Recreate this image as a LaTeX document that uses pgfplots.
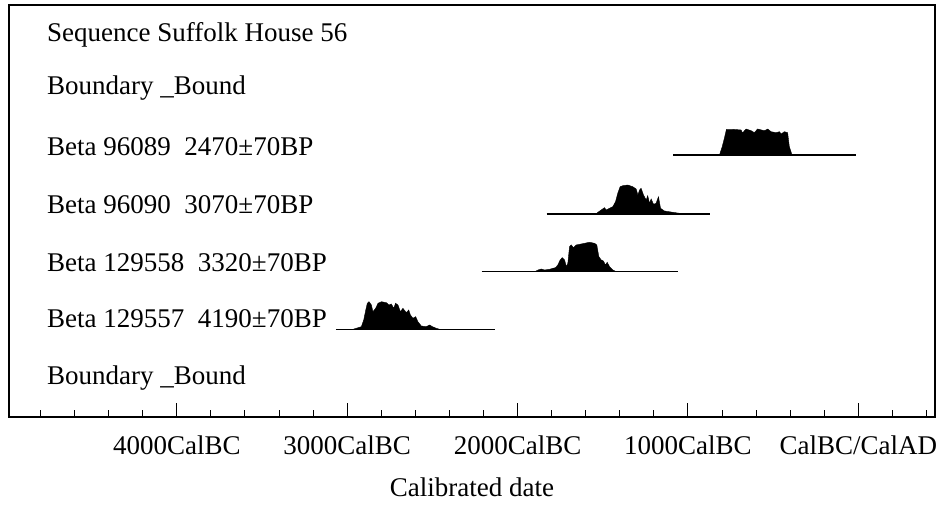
\documentclass[border=0pt]{standalone}
\usepackage{fontspec}
\setmainfont{Liberation Serif}
\usepackage{pgfplots}
\pgfplotsset{compat=1.18}
\begin{document}
\begin{tikzpicture}
\useasboundingbox (0,0) rectangle (942pt,510pt);
\begin{axis}[
  at={(9pt,93pt)}, anchor=south west,
  scale only axis, width=926pt, height=412pt,
  xmin=-4985, xmax=450, ymin=0, ymax=412,
  axis line style={line width=1.5pt},
  xtick={-4000,-3000,-2000,-1000,0},
  xticklabels={4000CalBC,3000CalBC,2000CalBC,1000CalBC,CalBC/CalAD},
  minor xtick={-4800,-4600,-4400,-4200,-3800,-3600,-3400,-3200,-2800,-2600,-2400,-2200,-1800,-1600,-1400,-1200,-800,-600,-400,-200,200,400},
  ytick=\empty,
  xtick pos=bottom, tick align=inside,
  major tick length=14pt, minor tick length=7pt,
  tick style={line width=1pt, black},
  xticklabel style={font=\fontsize{27}{32}\selectfont, anchor=base, yshift=-38pt},
  xlabel={Calibrated date},
  xlabel style={font=\fontsize{27}{32}\selectfont, at={(axis description cs:0.5,0)}, anchor=base, yshift=-80pt},
  clip=false,
]
% baselines
\addplot[black, line width=1.2pt] coordinates {(-1085,262) (-12,262)};
\addplot[black, line width=1.2pt] coordinates {(-1830,203) (-870,203)};
\addplot[black, line width=1.2pt] coordinates {(-2211,145.3) (-1056,145.3)};
\addplot[black, line width=1.2pt] coordinates {(-3067,87.7) (-2135,87.7)};
% Beta 96089
\addplot[fill=black, draw=black, line width=0.4pt] coordinates {
(-815,262) (-799,270.3) (-786,279) (-774,287.7) (-739,287.7) (-688,287) (-680,284) (-659,288) (-629,286.3) (-610,284.3) (-592,288) (-551,286.3) (-532,288) (-512,285.3) (-483,284.3) (-463,285.3) (-453,283) (-434,285.3) (-415,284.3) (-405,270.3) (-389,262)} -- cycle;
% Beta 96090
\addplot[fill=black, draw=black, line width=0.4pt] coordinates {
(-1538,203) (-1529,204.7) (-1509,207) (-1490,209.3) (-1480,207) (-1460,208.7) (-1441,210.3) (-1425,215.3) (-1412,223.7) (-1398,230.3) (-1382,231.3) (-1353,232) (-1324,230.3) (-1304,228) (-1294,222) (-1284,227) (-1275,228.7) (-1261,222) (-1245,217) (-1236,221.3) (-1226,213.7) (-1216,218) (-1202,212.7) (-1187,213.7) (-1173,220.3) (-1161,208.7) (-1138,206) (-1089,204.7) (-1050,203.7) (-1021,203)} -- cycle;
% Beta 129558
\addplot[fill=black, draw=black, line width=0.4pt] coordinates {
(-1900,145.3) (-1880,147) (-1861,148) (-1842,147) (-1812,147.7) (-1793,148.7) (-1777,149.3) (-1764,152) (-1750,157) (-1738,159.3) (-1724,157) (-1714,150.3) (-1705,153.7) (-1695,170.3) (-1685,172) (-1672,169.3) (-1656,172) (-1636,172.7) (-1607,173.7) (-1578,174.7) (-1548,173.7) (-1535,172) (-1523,160.3) (-1509,157) (-1496,156) (-1484,152) (-1474,154.7) (-1460,150.3) (-1441,147) (-1421,145.3)} -- cycle;
% Beta 129557
\addplot[fill=black, draw=black, line width=0.4pt] coordinates {
(-2966,87.7) (-2917,90.3) (-2903,97) (-2891,107) (-2882,113.7) (-2872,115.3) (-2858,112) (-2849,105.3) (-2833,108.7) (-2819,113.7) (-2799,115.3) (-2770,114.3) (-2755,112) (-2741,113) (-2727,108.7) (-2716,113.7) (-2702,112) (-2688,105.3) (-2673,108.7) (-2653,104.3) (-2639,107) (-2629,102) (-2614,98.7) (-2598,100.3) (-2585,95.3) (-2565,91) (-2536,90.3) (-2516,92) (-2500,90.3) (-2477,88.7) (-2457,87.7)} -- cycle;
% row labels
\begingroup
\fontsize{27}{32}\selectfont
\node[anchor=base west, inner sep=0pt, font=\fontsize{27}{32}\selectfont] at (axis cs:-4762,375) {Sequence Suffolk House 56};
\node[anchor=base west, inner sep=0pt, font=\fontsize{27}{32}\selectfont] at (axis cs:-4762,322) {Boundary \_Bound};
\node[anchor=base west, inner sep=0pt, font=\fontsize{27}{32}\selectfont] at (axis cs:-4762,261) {Beta 96089\ \ 2470±70BP};
\node[anchor=base west, inner sep=0pt, font=\fontsize{27}{32}\selectfont] at (axis cs:-4762,203) {Beta 96090\ \ 3070±70BP};
\node[anchor=base west, inner sep=0pt, font=\fontsize{27}{32}\selectfont] at (axis cs:-4762,145.5) {Beta 129558\ \ 3320±70BP};
\node[anchor=base west, inner sep=0pt, font=\fontsize{27}{32}\selectfont] at (axis cs:-4762,89.5) {Beta 129557\ \ 4190±70BP};
\node[anchor=base west, inner sep=0pt, font=\fontsize{27}{32}\selectfont] at (axis cs:-4762,32) {Boundary \_Bound};
\endgroup
\end{axis}
\end{tikzpicture}
\end{document}
